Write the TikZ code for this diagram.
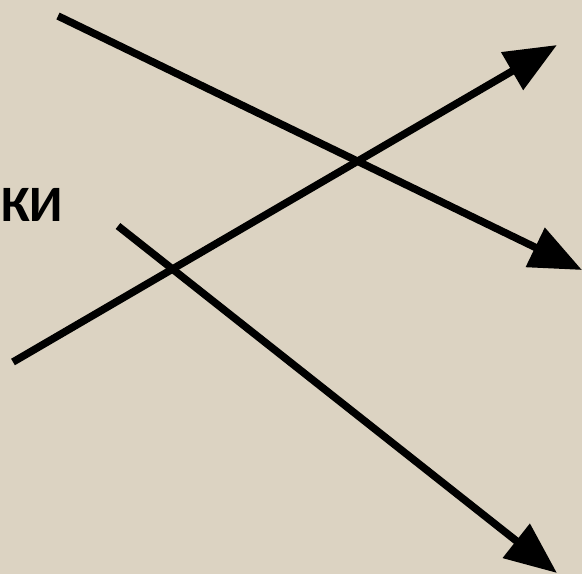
\documentclass[tikz,border=0pt]{standalone}
\usepackage{fontspec}
\setmainfont{Carlito}
\usetikzlibrary{arrows.meta}
\definecolor{Paper}{HTML}{DCD3C2}
\definecolor{Ink}{HTML}{000000}

\begin{document}
\begin{tikzpicture}[x=1pt,y=-1pt,
  ray/.style={draw=Ink, line width=7.5pt, -{Triangle[length=52pt,width=42pt]}}]
\fill[Paper] (0,0) rectangle (582,574);
\useasboundingbox (0,0) rectangle (582,574);

% Label
\node[anchor=base west, inner sep=0pt, font=\fontsize{51}{51}\selectfont\bfseries] (lbl) at (1,221) {КИ};

% Ray ends
\coordinate (a0) at (58,16);
\coordinate (a1) at (582,270);
\coordinate (b0) at (13,362);
\coordinate (b1) at (557,45);
\coordinate (c0) at (118,226);
\coordinate (c1) at (557,573);

% Rays
\draw[ray] (a0) -- (a1);
\draw[ray] (b0) -- (b1);
\draw[ray] (c0) -- (c1);
\end{tikzpicture}
\end{document}
